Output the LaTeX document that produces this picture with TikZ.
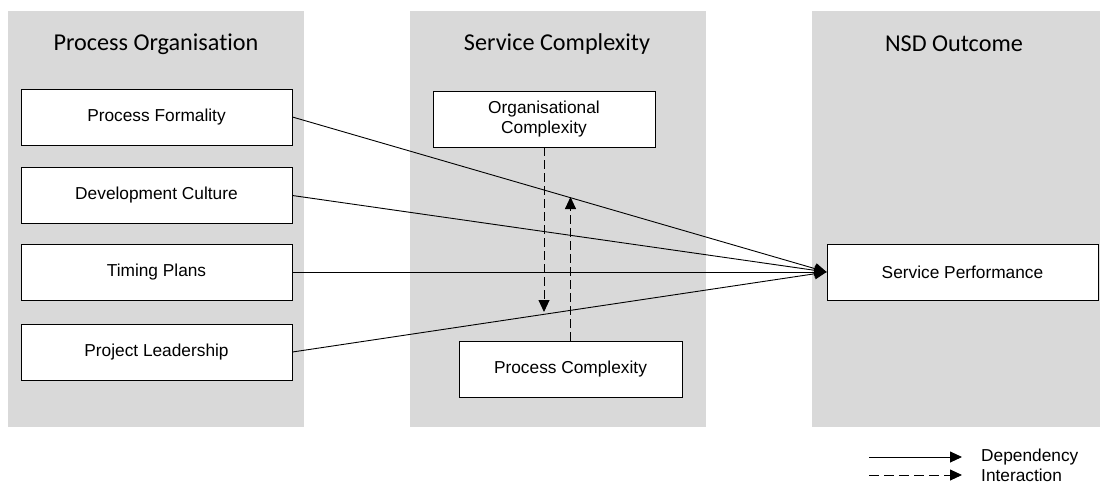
\documentclass[tikz,border=0pt]{standalone}
\usepackage{fontspec}
\setmainfont{Liberation Sans}
\newfontfamily\titlefont[Ligatures=NoCommon]{Carlito}
\usetikzlibrary{arrows.meta}
\definecolor{colgrey}{HTML}{D9D9D9}
\begin{document}
\begin{tikzpicture}[x=1pt,y=-1pt,
  column/.style={fill=colgrey,draw=none},
  coltitle/.style={font=\titlefont\fontsize{24.2}{28}\selectfont,inner sep=0pt},
  box/.style={draw=black,fill=white,line width=0.9pt,minimum width=271pt,minimum height=56pt,inner sep=0pt,font=\fontsize{17.3}{20}\selectfont,align=center},
  dep/.style={line width=0.9pt,-{Triangle[length=12pt,width=11pt]}},
  inter/.style={line width=0.9pt,dash pattern=on 9pt off 4pt,-{Triangle[length=12pt,width=11pt]}},
  legtext/.style={font=\fontsize{17.3}{20}\selectfont,anchor=west,inner sep=0pt}]
\useasboundingbox (0,0) rectangle (1100,483);
\fill[white] (0,0) rectangle (1100,483);
% columns
\fill[column] (8,11) rectangle (304,427);
\fill[column] (410,11) rectangle (706,427);
\fill[column] (812,11) rectangle (1100,427);
% titles
\node[coltitle] (t1) at (156,44) {Process Organisation};
\node[coltitle] (t2) at (557,44) {Service Complexity};
\node[coltitle] (t3) at (954,44) {NSD Outcome};
% boxes
\node[box] (pf) at (156.5,117) {Process Formality};
\node[box] (dc) at (156.5,195.5) {Development Culture};
\node[box] (tp) at (156.5,272) {Timing Plans};
\node[box] (pl) at (156.5,352) {Project Leadership};
\node[box,minimum width=222pt] (oc) at (544,119) {Organisational\\Complexity};
\node[box,minimum width=223pt] (pc) at (570.5,369) {Process Complexity};
\node[box] (sp) at (962.5,272) {Service Performance};
% dependencies
\draw[dep] (pf.east) -- (sp.west);
\draw[dep] (dc.east) -- (sp.west);
\draw[dep] (tp.east) -- (sp.west);
\draw[dep] (pl.east) -- (sp.west);
% interactions
\coordinate (ocend) at (544,312);
\coordinate (pcend) at (570.5,197);
\draw[inter] (oc.south) -- (ocend);
\draw[inter] (pc.north) -- (pcend);
% legend
\coordinate (l1a) at (869,457);
\coordinate (l1b) at (962,457);
\coordinate (l2a) at (869,475);
\coordinate (l2b) at (962,475);
\draw[dep] (l1a) -- (l1b);
\draw[line width=0.9pt,dash pattern=on 10pt off 5pt,-{Triangle[length=12pt,width=11pt]}] (l2a) -- (l2b);
\node[legtext] (lg1) at (981,457) {Dependency};
\node[legtext] (lg2) at (981,475) {Interaction};
\end{tikzpicture}
\end{document}
